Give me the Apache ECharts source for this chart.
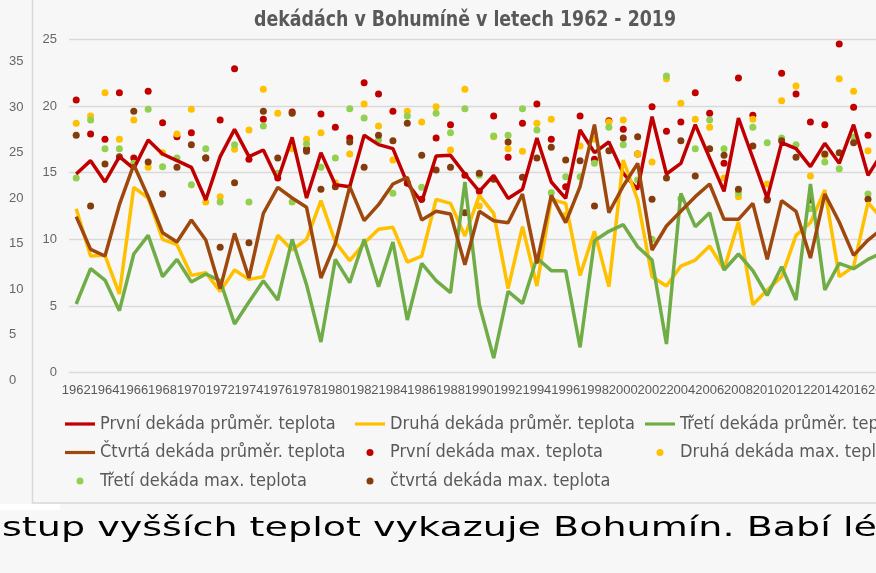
<!DOCTYPE html>
<html>
<head>
<meta charset="utf-8">
<script src="https://cdn.jsdelivr.net/npm/echarts@6/dist/echarts.min.js"></script>
<style>
  html, body { margin: 0; padding: 0; background: #f7f7f7; overflow: hidden; }
  #main { width: 940px; height: 573px; }
</style>
</head>
<body>
<div id="main"></div>
<script>
// roky 1962 - 2019
var roky = ['1962','1963','1964','1965','1966','1967','1968','1969','1970','1971',
  '1972','1973','1974','1975','1976','1977','1978','1979','1980','1981',
  '1982','1983','1984','1985','1986','1987','1988','1989','1990','1991',
  '1992','1993','1994','1995','1996','1997','1998','1999','2000','2001',
  '2002','2003','2004','2005','2006','2007','2008','2009','2010','2011',
  '2012','2013','2014','2015','2016','2017','2018','2019'];

// prumerne teploty (cary)
var prvniPrumer = [14.9,15.9,14.3,16.2,15.3,17.45,16.4,15.9,15.4,12.95,16.2,18.25,16.2,16.7,14.45,17.65,13.1,16.5,14.1,13.95,
  17.8,17.1,16.8,14.2,12.8,16.25,16.3,14.9,13.6,14.8,13.07,13.75,17.6,14.3,13.07,18.2,16.5,17.3,14.95,13.75,
  19.2,14.9,15.7,18.6,16.1,13.6,19.1,16.1,13.07,17.25,16.8,15.45,17.2,15.7,18.6,14.8,16.5,15.8];
var druhaPrumer = [12.3,8.75,8.8,5.9,13.9,13.1,10.0,9.6,7.3,7.5,6.1,7.7,7.0,7.2,10.3,9.2,10.0,12.9,9.8,8.4,
  9.7,10.75,10.9,8.3,8.75,13.0,12.7,10.25,13.3,11.95,6.3,10.95,6.5,13.0,12.7,7.3,10.6,6.45,15.95,12.95,
  7.2,6.5,8.0,8.45,9.5,7.75,11.3,5.1,6.2,7.2,10.3,11.25,13.7,7.2,7.95,12.75,11.5,9.0];
var tretiPrumer = [5.15,7.8,6.95,4.65,8.9,10.3,7.2,8.5,6.8,7.4,6.9,3.65,5.3,6.9,5.45,10.0,6.6,2.3,8.5,6.75,
  10.0,6.45,9.8,3.95,8.2,6.9,6.0,14.3,5.1,1.1,6.1,5.2,8.6,7.65,7.65,1.9,9.9,10.6,11.1,9.45,
  8.45,2.15,13.45,10.95,12.0,7.7,8.9,7.65,5.8,7.95,5.45,14.15,6.2,8.2,7.8,8.5,9.0,9.5];
var ctvrtaPrumer = [11.7,9.25,8.75,12.6,15.6,13.2,10.5,9.8,11.45,9.95,6.3,10.45,7.1,11.95,13.9,13.1,12.4,7.1,9.7,13.95,
  11.4,12.6,14.15,14.65,11.45,12.1,11.9,8.1,12.1,11.4,11.25,13.4,8.2,13.3,11.25,13.95,18.6,12.0,14.0,15.7,
  9.2,11.0,12.1,13.2,14.15,11.5,11.5,12.7,8.5,12.9,12.1,8.6,13.4,11.3,8.8,9.95,10.8,11.5];

// maximalni teploty (body)
var prvniMax = [20.45,17.9,17.5,21.0,16.1,21.1,18.75,17.7,18.0,16.1,18.95,22.8,16.0,19.0,14.6,19.55,16.75,19.4,18.4,17.6,
  21.75,20.9,19.6,14.2,13.0,17.6,18.6,14.8,13.6,19.25,16.15,18.7,20.15,17.5,13.95,19.25,16.0,18.9,18.25,16.4,
  19.95,18.1,18.8,21.0,19.45,15.7,22.1,19.3,13.0,22.45,20.9,18.8,18.6,24.65,19.9,17.8,18.5,17.0];
var druhaMax = [18.7,19.25,21.0,17.5,18.95,15.4,16.5,17.9,19.75,12.8,13.2,16.75,18.2,21.25,19.45,16.8,17.5,18.0,14.25,16.4,
  20.15,18.5,15.95,19.6,18.8,19.95,16.7,21.25,12.5,17.7,16.8,16.6,18.7,19.0,11.8,17.0,17.5,18.8,18.95,16.4,
  15.8,22.05,20.2,19.0,18.4,14.6,13.2,19.0,14.15,20.4,21.5,14.75,16.3,22.05,21.1,16.65,20.0,18.0];
var tretiMax = [14.6,18.95,16.8,16.8,15.7,19.75,15.45,16.1,14.1,16.8,12.8,17.1,12.8,18.5,14.95,12.8,17.15,15.4,16.1,19.8,
  19.1,17.45,13.45,19.25,13.9,19.45,18.0,19.8,14.8,17.75,17.8,19.8,18.2,13.5,14.7,14.7,15.7,18.4,17.1,14.45,
  10.0,22.25,13.05,16.8,18.95,16.8,13.5,18.4,17.25,17.6,17.1,12.3,15.8,15.3,17.65,13.4,16.5,15.0];
var ctvrtaMax = [17.8,12.5,15.65,16.2,19.6,15.8,13.4,15.4,17.1,16.1,9.4,14.25,9.75,19.6,16.1,19.45,16.6,13.75,13.95,17.3,
  15.4,17.8,17.4,18.7,16.3,15.2,15.4,12.0,14.95,14.5,17.3,14.65,16.1,16.9,15.95,15.9,12.5,16.65,17.6,17.7,
  13.0,14.6,17.4,14.75,16.8,16.3,13.75,17.0,12.95,17.4,16.15,12.95,16.4,16.5,17.25,13.0,15.5,16.0];

var nazvy = ['První dekáda průměr. teplota', 'Druhá dekáda průměr. teplota', 'Třetí dekáda průměr. teplota',
  'Čtvrtá dekáda průměr. teplota', 'První dekáda max. teplota', 'Druhá dekáda max. teplota',
  'Třetí dekáda max. teplota', 'čtvrtá dekáda max. teplota'];
var titulek = 'dekádách v Bohumíně v letech 1962 - 2019';
var textPod = 'stup vyšších teplot vykazuje Bohumín. Babí lé';

var sedy = '#595959';
var pismo = '"Liberation Sans Narrow", "DejaVu Sans Condensed", sans-serif';
// ikona cary v legende
var ikonaCara = 'path://M0,0L30,0L30,3.2L0,3.2Z';

function cara(jmeno, data, barva) {
  return {
    name: jmeno, type: 'line', data: data, symbol: 'none', showSymbol: false,
    xAxisIndex: 0, yAxisIndex: 0,
    lineStyle: { color: barva, width: 3.5 }, itemStyle: { color: barva },
    emphasis: { disabled: true }, animation: false
  };
}
function body(jmeno, data, barva) {
  return {
    name: jmeno, type: 'scatter', data: data, symbol: 'circle', symbolSize: 7,
    xAxisIndex: 0, yAxisIndex: 0,
    itemStyle: { color: barva, opacity: 1 },
    emphasis: { disabled: true }, animation: false
  };
}
function polozka(i) {
  return { name: nazvy[i], icon: i < 4 ? ikonaCara : 'circle' };
}
function legenda(left, items) {
  return {
    orient: 'vertical', left: left, top: 415, itemWidth: 30, itemHeight: 7, itemGap: 10.5,
    padding: 0, selectedMode: false, data: items.map(polozka),
    textStyle: { color: sedy, fontSize: 18, lineHeight: 18, fontFamily: pismo }
  };
}

var myChart = echarts.init(document.getElementById('main'));
var option = {
  backgroundColor: '#f7f7f7',
  animation: false,
  legend: [
    legenda(65, [0, 3, 6]),
    legenda(355, [1, 4, 7]),
    legenda(645, [2, 5])
  ],
  grid: [
    { left: 69, right: 36, top: 39.3, bottom: 200.3, outerBoundsMode: 'none' },
    { left: 30, width: 1, top: 61.7, bottom: 193, outerBoundsMode: 'none' }
  ],
  xAxis: [
    {
      type: 'category', data: roky, gridIndex: 0, boundaryGap: true,
      axisLine: { show: false }, axisTick: { show: false },
      axisLabel: { interval: 1, margin: 11, color: sedy, fontSize: 13, fontFamily: 'Liberation Sans' }
    },
    { type: 'value', gridIndex: 1, show: false }
  ],
  yAxis: [
    {
      type: 'value', gridIndex: 0, min: 0, max: 25, interval: 5,
      axisLine: { show: false }, axisTick: { show: false },
      splitLine: { lineStyle: { color: '#d9d9d9', width: 1.3 } },
      axisLabel: { margin: 12, color: '#666666', fontSize: 13, fontFamily: 'Liberation Sans' }
    },
    {
      type: 'value', gridIndex: 1, min: 0, max: 35, interval: 5,
      axisLine: { show: false }, axisTick: { show: false }, splitLine: { show: false },
      axisLabel: { align: 'left', margin: 21, color: '#666666', fontSize: 13, fontFamily: 'Liberation Sans' }
    }
  ],
  graphic: [
    { type: 'line', shape: { x1: 32.5, y1: 0, x2: 32.5, y2: 503 }, style: { stroke: '#d9d9d9', lineWidth: 1.5 }, silent: true },
    { type: 'line', shape: { x1: 32, y1: 503, x2: 940, y2: 503 }, style: { stroke: '#d9d9d9', lineWidth: 1.5 }, silent: true },
    { type: 'rect', shape: { x: 0, y: 504, width: 60, height: 6 }, style: { fill: '#ffffff' }, silent: true },
    {
      type: 'text', x: 465, y: 21, scaleX: 0.92, silent: true,
      style: { text: titulek, fill: sedy, font: 'bold 21px ' + pismo, textAlign: 'center', textVerticalAlign: 'middle' }
    },
    {
      type: 'text', x: 2, y: 529, scaleX: 1.41, silent: true,
      style: { text: textPod, fill: '#000000', font: '27px "DejaVu Sans", sans-serif', textAlign: 'left', textVerticalAlign: 'middle' }
    }
  ],
  series: [
    cara(nazvy[0], prvniPrumer, '#c00000'),
    cara(nazvy[1], druhaPrumer, '#ffc000'),
    cara(nazvy[2], tretiPrumer, '#70ad47'),
    cara(nazvy[3], ctvrtaPrumer, '#9e480e'),
    body(nazvy[4], prvniMax, '#c00000'),
    body(nazvy[5], druhaMax, '#ffc000'),
    body(nazvy[6], tretiMax, '#92d050'),
    body(nazvy[7], ctvrtaMax, '#843c0c')
  ]
};
myChart.setOption(option);
</script>
</body>
</html>
